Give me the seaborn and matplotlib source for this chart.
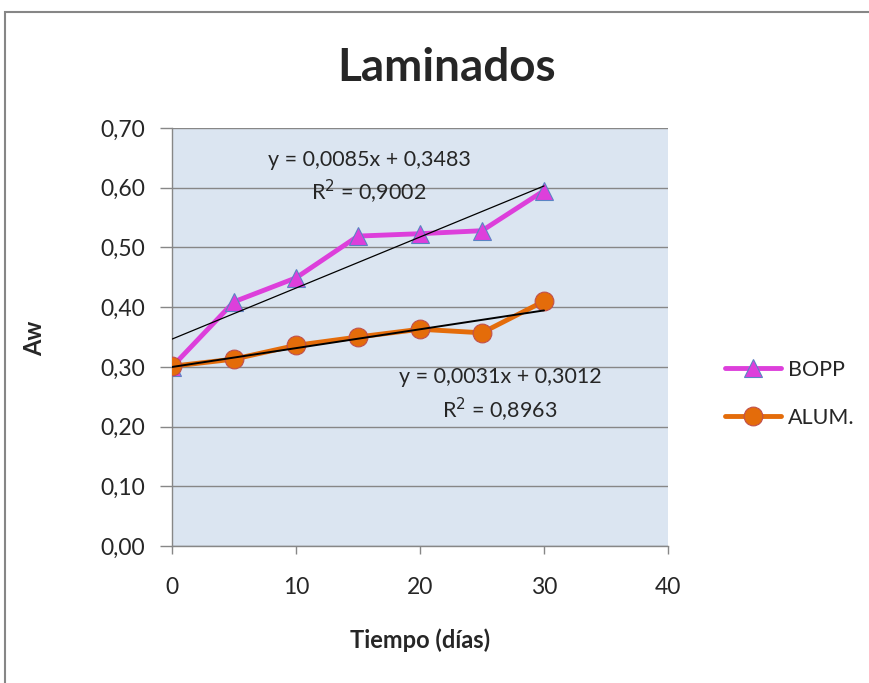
import numpy as np
import pandas as pd
import matplotlib
matplotlib.use("Agg")
import matplotlib.pyplot as plt
import seaborn as sns
from matplotlib.patches import Rectangle

dias = [0, 5, 10, 15, 20, 25, 30]
bopp = [0.300, 0.409, 0.449, 0.519, 0.523, 0.528, 0.595]
alum = [0.301, 0.313, 0.336, 0.350, 0.363, 0.357, 0.410]
series_names = ["BOPP", "ALUM."]
eq_bopp = ["y = 0,0085x + 0,3483", "R$^2$ = 0,9002"]
eq_alum = ["y = 0,0031x + 0,3012", "R$^2$ = 0,8963"]
yticks = [0.0, 0.1, 0.2, 0.3, 0.4, 0.5, 0.6, 0.7]
xticks = [0, 10, 20, 30, 40]

sns.set_style("white")
plt.rcParams['font.family'] = ['Lato', 'DejaVu Sans']

fig = plt.figure(figsize=(8.7, 6.83), dpi=100)
fig.patch.set_facecolor("white")
# outer chart frame
fig.patches.append(Rectangle((5/870, -0.1), 2.0, (683-12)/683 + 0.1, transform=fig.transFigure,
                             fill=False, edgecolor="#868686", linewidth=1.5))

ax = fig.add_axes([172/870, (683-546)/683, (668-172)/870, (546-128)/683])
ax.set_facecolor("#DBE5F1")

df = pd.DataFrame({"dias": dias * 2, "aw": bopp + alum,
                   "serie": [series_names[0]] * len(dias) + [series_names[1]] * len(dias)})

sns.lineplot(data=df[df.serie == "BOPP"], x="dias", y="aw", ax=ax, color="#DD3FDB",
             linewidth=3.5, marker="^", markersize=13.5, markerfacecolor="#DD3FDB",
             markeredgecolor="#5B84C4", markeredgewidth=0.8, label="BOPP", zorder=4)
sns.lineplot(data=df[df.serie == "ALUM."], x="dias", y="aw", ax=ax, color="#E46C0A",
             linewidth=3.5, marker="o", markersize=13.5, markerfacecolor="#E46C0A",
             markeredgecolor="#C0504D", markeredgewidth=0.8, label="ALUM.", zorder=4)

# linear trendlines (least squares fit of the series)
xs = np.array(dias, dtype=float)
for vals, lw in [(bopp, 0.9), (alum, 1.4)]:
    m, b = np.polyfit(xs, np.array(vals), 1)
    ax.plot([xs.min(), xs.max()], [m * xs.min() + b, m * xs.max() + b], color="black",
            linewidth=lw, zorder=5)

ax.set_xlim(0, 40)
ax.set_ylim(0, 0.70)
ax.set_yticks(yticks)
ax.set_yticklabels([f"{v:.2f}".replace(".", ",") for v in yticks])
ax.set_xticks(xticks)
ax.set_xticklabels([str(v) for v in xticks])
ax.yaxis.grid(True, color="#878787", linewidth=1)
ax.xaxis.grid(False)
for s in ["top", "right"]:
    ax.spines[s].set_visible(False)
for s in ["left", "bottom"]:
    ax.spines[s].set_color("#878787")
    ax.spines[s].set_linewidth(1)
ax.tick_params(axis="y", direction="out", length=8.5, width=1, color="#878787",
               labelsize=16.5, pad=11, left=True)
ax.tick_params(axis="x", direction="out", length=6, width=1, color="#878787",
               labelsize=16.5, pad=16, bottom=True)

ax.set_xlabel("Tiempo (días)", fontsize=17, fontweight="bold")
ax.set_ylabel("Aw", fontsize=17, fontweight="bold")
ax.xaxis.label.set_va("center")
ax.yaxis.label.set_va("center")
ax.xaxis.set_label_coords((420 - 172) / 496, (546 - 640) / 418)
ax.yaxis.set_label_coords((35 - 172) / 496, (546 - 338) / 418)

fig.text(447/870, 1 - 68/683, "Laminados", ha="center", va="center",
         fontsize=33, fontweight="bold")

ax.text(15.9, 0.6465, eq_bopp[0], ha="center", va="center", fontsize=15.5, zorder=6)
ax.text(15.9, 0.593, eq_bopp[1], ha="center", va="center", fontsize=15.5, zorder=6)
ax.text(26.45, 0.283, eq_alum[0], ha="center", va="center", fontsize=15.5, zorder=6)
ax.text(26.45, 0.228, eq_alum[1], ha="center", va="center", fontsize=15.5, zorder=6)

ax.legend(loc="center left", bbox_to_anchor=(706/870, 1 - 394/683),
          bbox_transform=fig.transFigure, frameon=False, fontsize=15.5,
          handlelength=2.6, labelspacing=1.3, handletextpad=0.3)

fig.savefig("out.png", dpi=100, facecolor="white")
